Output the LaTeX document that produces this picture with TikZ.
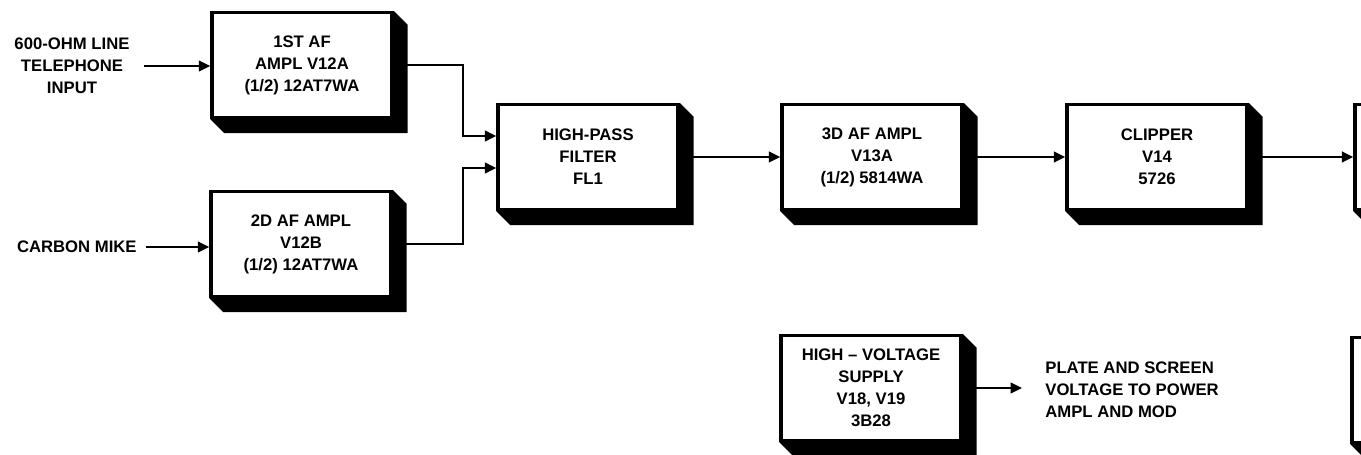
\documentclass[tikz,border=0pt]{standalone}
\usepackage{fontspec}
\setmainfont{Liberation Sans}
\usetikzlibrary{arrows.meta,calc}
\newcommand{\lettering}{\fontsize{9.5}{12.5}\selectfont\bfseries}

\begin{document}
\begin{tikzpicture}[
  x=0.02cm, y=-0.02cm,
  blk/.style={draw, line width=1.9pt, fill=white, minimum width=3.6cm,
    minimum height=2.1cm, inner sep=2pt, align=center, font=\lettering},
  lbl/.style={align=center, font=\lettering, inner sep=0pt},
  wire/.style={line width=1.4pt, -{Triangle[length=6.5pt,width=6pt]}}
]
  \useasboundingbox (0,0) rectangle (1361,455);

  % blocks
  \node[blk] (af1) at (302,65) {1ST AF\\AMPL V12A\\(1/2) 12AT7WA};
  \node[blk] (af2) at (301,244) {2D AF AMPL\\V12B\\(1/2) 12AT7WA};
  \node[blk] (hpf) at (588,157) {HIGH-PASS\\FILTER\\FL1};
  \node[blk] (af3) at (872,157) {3D AF AMPL\\V13A\\(1/2) 5814WA};
  \node[blk] (clip) at (1157,157) {CLIPPER\\V14\\5726};
  \node[blk] (hvs) at (871,388) {HIGH -- VOLTAGE\\SUPPLY\\V18, V19\\3B28};
  % blocks cut by the right edge
  \node[blk] (next1) at (1445,157) {};
  \node[blk] (next2) at (1442,390) {};

  % shadows
  \foreach \n in {af1,af2,hpf,af3,clip,hvs,next1,next2}
    \fill (\n.north east) -- ++(14,14) -- ($(\n.south east)+(14,14)$)
      -- ($(\n.south west)+(14,14)$) -- (\n.south west) -- (\n.south east) -- cycle;

  % labels
  \node[lbl] (tel) at (72,66) {600-OHM LINE\\TELEPHONE\\INPUT};
  \node[lbl, anchor=east] (mike) at (137,247) {CARBON MIKE};
  \node[lbl, anchor=west, align=left] (plate) at (1045,390)
    {PLATE AND SCREEN\\VOLTAGE TO POWER\\AMPL AND MOD};

  % junctions
  \coordinate (j1) at (463,136);
  \coordinate (j2) at (463,168);

  % connectors
  \draw[wire, shorten <=0.28cm] (tel.east) -- (tel.east -| af1.west);
  \draw[wire, shorten <=0.18cm] (mike.east) -- (mike.east -| af2.west);
  \draw[wire] (af1.east) -| (j1) -- (j1 -| hpf.west);
  \draw[wire] (af2.east) -| (j2) -- (j2 -| hpf.west);
  \draw[wire] (hpf.east) -- (af3.west);
  \draw[wire] (af3.east) -- (clip.west);
  \draw[wire] (clip.east) -- (next1.west);
  \draw[wire, shorten >=0.46cm] (hvs.east) -- (hvs.east -| plate.west);
\end{tikzpicture}
\end{document}
